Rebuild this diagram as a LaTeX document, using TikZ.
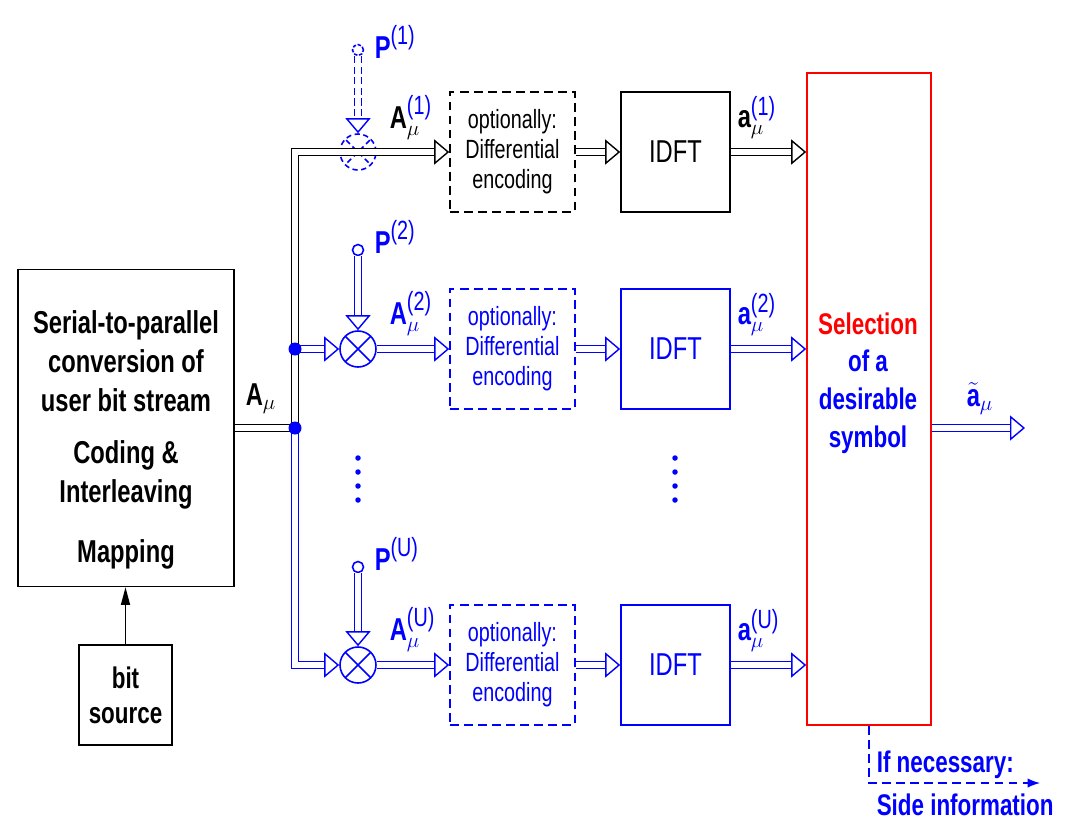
\documentclass[tikz,border=0pt]{standalone}
\usepackage{fontspec}
\setmainfont{Liberation Sans}[FakeStretch=0.75]
\usepackage{tikz}
\usetikzlibrary{arrows.meta,calc}
\usepackage{xcolor}
\definecolor{sigblue}{RGB}{0,0,255}
\definecolor{selred}{RGB}{255,0,0}
\newcommand{\bidx}[1]{\textrm{\fontsize{15}{15}\selectfont(#1)}}

\begin{document}
\begin{tikzpicture}[
  x=0.2mm, y=-0.2mm,
  line width=0.9pt,
  font=\fontsize{15}{17}\selectfont,
  blockbox/.style={draw, inner sep=0pt, align=center},
  debox/.style={blockbox, dash pattern=on 5pt off 3pt,
                minimum width=25mm, minimum height=24mm},
  idftbox/.style={blockbox, minimum width=21.8mm, minimum height=24mm,
                  font=\fontsize{18}{20}\selectfont},
  mult/.style={circle, draw, minimum size=7.2mm, inner sep=0pt,
    path picture={\draw (path picture bounding box.north west) -- (path picture bounding box.south east)
                        (path picture bounding box.north east) -- (path picture bounding box.south west);}},
  pin/.style={circle, draw, minimum size=2.2mm, inner sep=0pt},
  busline/.style={double, double distance=3pt, line width=0.8pt},
  bus/.style={busline, -{Triangle[open, length=3mm, width=5mm]}},
  lbl/.style={inner sep=0pt, anchor=base west, font=\fontsize{18}{20}\selectfont},
  joint/.style={circle, fill=sigblue, inner sep=0pt, minimum size=2.6mm},
  vdot/.style={circle, fill=sigblue, inner sep=0pt, minimum size=1.1mm},
]
\useasboundingbox (0,0) rectangle (1066,823);

% source side
\node[blockbox, minimum width=43.2mm, minimum height=63.4mm] (ser) at (126,428) {};
\node[align=center, font=\bfseries\fontsize{18}{22}\selectfont] (sertxt) at (126,440)
  {Serial-to-parallel\\conversion of\\user bit stream\\[8pt]
   Coding \&\\Interleaving\\[12pt]Mapping};
\node[blockbox, minimum width=18.6mm, minimum height=20mm,
      font=\bfseries\fontsize{17}{20}\selectfont] (bits) at (125.5,695) {bit\\source};
\draw[-{Triangle[length=3.5mm, width=1.8mm]}, line width=0.7pt]
  (bits.north) -- (bits.north |- ser.south);

% branch 1 (optional phase factor)
\node[mult, sigblue, dash pattern=on 3pt off 2pt] (m1) at (358,152) {};
\node[pin, sigblue, dash pattern=on 2pt off 1pt] (p1) at (358,50) {};
\node[debox] (de1) at (512.5,152) {optionally:\\Differential\\encoding};
\node[idftbox] (idft1) at (675.5,152) {IDFT};

% branches 2 and U
\node[mult, sigblue] (m2) at (358,349) {};
\node[pin, sigblue] (p2) at (358,250) {};
\node[debox, sigblue] (de2) at (512.5,349) {optionally:\\Differential\\encoding};
\node[idftbox, sigblue] (idft2) at (675.5,349) {IDFT};

\node[mult, sigblue] (mU) at (358,665) {};
\node[pin, sigblue] (pU) at (358,567) {};
\node[debox, sigblue] (deU) at (512.5,665) {optionally:\\Differential\\encoding};
\node[idftbox, sigblue] (idftU) at (675.5,665) {IDFT};

% selection
\node[draw=selred, minimum width=24.8mm, minimum height=130.4mm, inner sep=0pt] (sel) at (869,399) {};
\node[align=center, text=sigblue, font=\bfseries\fontsize{17}{21.5}\selectfont] (seltxt) at (868,383)
  {\textcolor{selred}{Selection}\\of a\\desirable\\symbol};

% bus
\coordinate (j2) at (295,349);
\coordinate (jB) at (295,428);
\coordinate (outp) at (1025,428);
\coordinate (sideend) at (1040,783);

\draw[busline] (ser.east |- jB) -- (jB);
\draw[bus] (jB) |- (de1.west);
\draw[bus, sigblue] (jB) |- (mU.west);
\draw[bus, sigblue] (j2) -- (m2.west);
\node[joint] (dj2) at (j2) {};
\node[joint] (djB) at (jB) {};

\draw[bus, sigblue, dash pattern=on 4pt off 2pt] (p1.south) -- (m1.north);
\draw[bus, sigblue] (p2.south) -- (m2.north);
\draw[bus, sigblue] (pU.south) -- (mU.north);

\draw[bus, sigblue] (m2.east) -- (de2.west);
\draw[bus, sigblue] (mU.east) -- (deU.west);

\draw[bus] (de1.east) -- (idft1.west);
\foreach \b in {2,U} { \draw[bus, sigblue] (de\b.east) -- (idft\b.west); }

\draw[bus] (idft1.east) -- (sel.west |- idft1.east);
\foreach \b in {2,U} { \draw[bus, sigblue] (idft\b.east) -- (sel.west |- idft\b.east); }

\draw[bus, sigblue] (sel.east |- outp) -- (outp);

% labels
\node[lbl] (lA) at (245,405) {$\textbf{A}_{\mu}$};
\node[lbl, sigblue] (lp1) at (374,58) {$\textbf{P}^{\bidx{1}}$};
\node[lbl, sigblue] (lp2) at (374,253) {$\textbf{P}^{\bidx{2}}$};
\node[lbl, sigblue] (lpU) at (374,570) {$\textbf{P}^{\bidx{U}}$};
\node[lbl] (lA1) at (389,128) {$\textbf{A}_{\mu}^{\textcolor{sigblue}{\bidx{1}}}$};
\node[lbl, sigblue] (lA2) at (389,324) {$\textbf{A}_{\mu}^{\bidx{2}}$};
\node[lbl, sigblue] (lAU) at (389,640) {$\textbf{A}_{\mu}^{\bidx{U}}$};
\node[lbl] (la1) at (737,127) {$\textbf{a}_{\mu}^{\textcolor{sigblue}{\bidx{1}}}$};
\node[lbl, sigblue] (la2) at (737,324) {$\textbf{a}_{\mu}^{\bidx{2}}$};
\node[lbl, sigblue] (laU) at (737,640) {$\textbf{a}_{\mu}^{\bidx{U}}$};
\node[lbl, sigblue] (lout) at (966,406) {$\tilde{\textbf{a}}_{\mu}$};

% dots between branches
\foreach \y in {458,472,486,500} {
  \node[vdot] (ld\y) at (358,\y) {};
  \node[vdot] (rd\y) at (675,\y) {};
}

% side information
\draw[sigblue, line width=0.7pt, dash pattern=on 5pt off 3pt, -{Latex[length=2.5mm]}]
  (sel.south) |- (sideend);
\node[anchor=west, inner sep=0pt, text=sigblue, font=\bfseries\fontsize{17}{20}\selectfont]
  (ifnec) at (876,765) {If necessary:};
\node[anchor=west, inner sep=0pt, text=sigblue, font=\bfseries\fontsize{17}{20}\selectfont]
  (sideinfo) at (876,805) {Side information};
\end{tikzpicture}
\end{document}
